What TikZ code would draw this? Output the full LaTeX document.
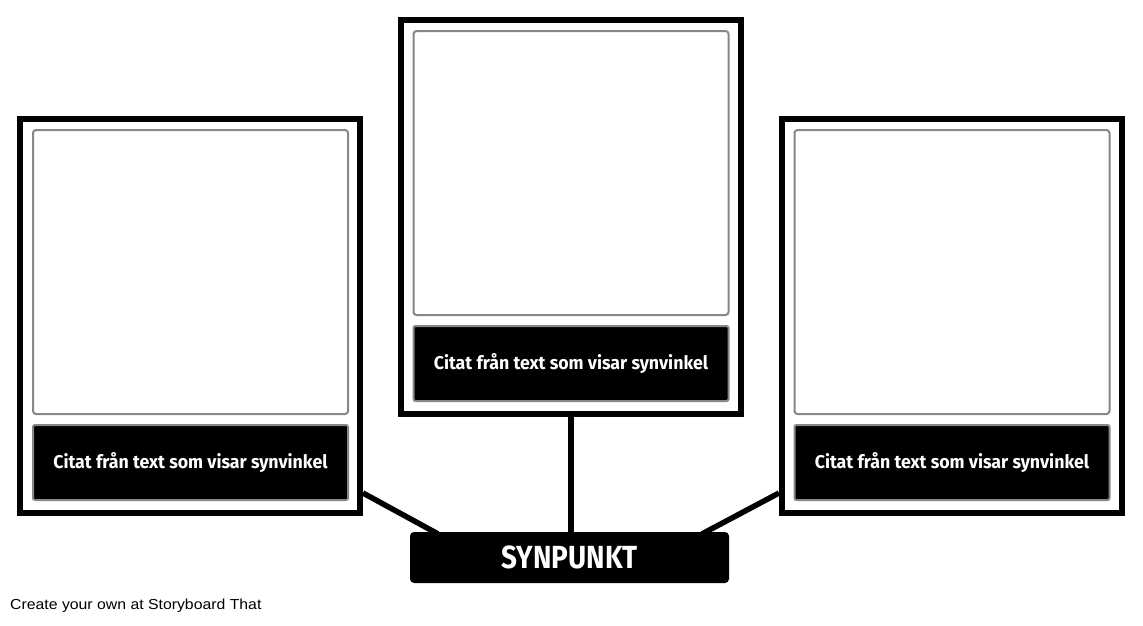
\documentclass[tikz,border=0pt]{standalone}
\usepackage{fontspec}
\setmainfont{Liberation Sans}
\newfontfamily\capfont[FakeStretch=0.96]{Fira Sans Bold}
\newfontfamily\titlefont[FakeStretch=0.87]{Fira Sans Bold}
\newfontfamily\footfont[FakeStretch=1.09]{Liberation Sans}
\usetikzlibrary{calc}
\pgfdeclarelayer{bg}
\pgfsetlayers{bg,main}
\begin{document}
\begin{tikzpicture}[x=1pt,y=-1pt,
  frame/.style={draw=black,line width=6pt,fill=white,minimum width=340pt,minimum height=394pt,inner sep=0pt},
  imgbox/.style={draw=black!47,line width=2pt,fill=white,rounded corners=3pt,minimum width=315pt,minimum height=284pt,inner sep=0pt},
  capbox/.style={draw=black!47,line width=2pt,fill=black,rounded corners=2pt,minimum width=315pt,minimum height=75pt,inner sep=0pt,text=white,font=\capfont\fontsize{18.5}{21}\selectfont},
  titlebox/.style={fill=black,rounded corners=4pt,minimum width=319pt,minimum height=51pt,inner sep=0pt,text=white,font=\titlefont\fontsize{32}{36}\selectfont},
  conn/.style={line width=5.5pt,black}]
\useasboundingbox (0,0) rectangle (1143,625);
% frames
\node[frame] (L) at (190,316) {};
\node[frame] (M) at (571,217) {};
\node[frame] (R) at (952,316) {};
% image boxes
\node[imgbox] (Li) at (190.5,272) {};
\node[imgbox] (Mi) at (571,173) {};
\node[imgbox] (Ri) at (952,272) {};
% captions
\node[capbox] (Lc) at (190.5,462.5) {Citat från text som visar synvinkel};
\node[capbox] (Mc) at (571,363.5) {Citat från text som visar synvinkel};
\node[capbox] (Rc) at (952,462.5) {Citat från text som visar synvinkel};
% title
\node[titlebox] (S) at (569.5,557.5) {SYNPUNKT};
% connectors
\begin{pgfonlayer}{bg}
\fill[white] (0,0) rectangle (1143,625);
\draw[conn] ($(L.south east)+(0,-23)$) -- ($(S.north west)+(28,2)$);
\draw[conn] (M.south -| S.north) ++(1.5,0) -- ($(S.north)+(1.5,2)$);
\draw[conn] ($(R.south west)+(0,-23)$) -- ($(S.north east)+(-27,2)$);
\end{pgfonlayer}
\node[anchor=west,inner sep=0pt,font=\footfont\fontsize{14.5}{17}\selectfont] (foot) at (10,606) {Create your own at Storyboard That};
\end{tikzpicture}
\end{document}
